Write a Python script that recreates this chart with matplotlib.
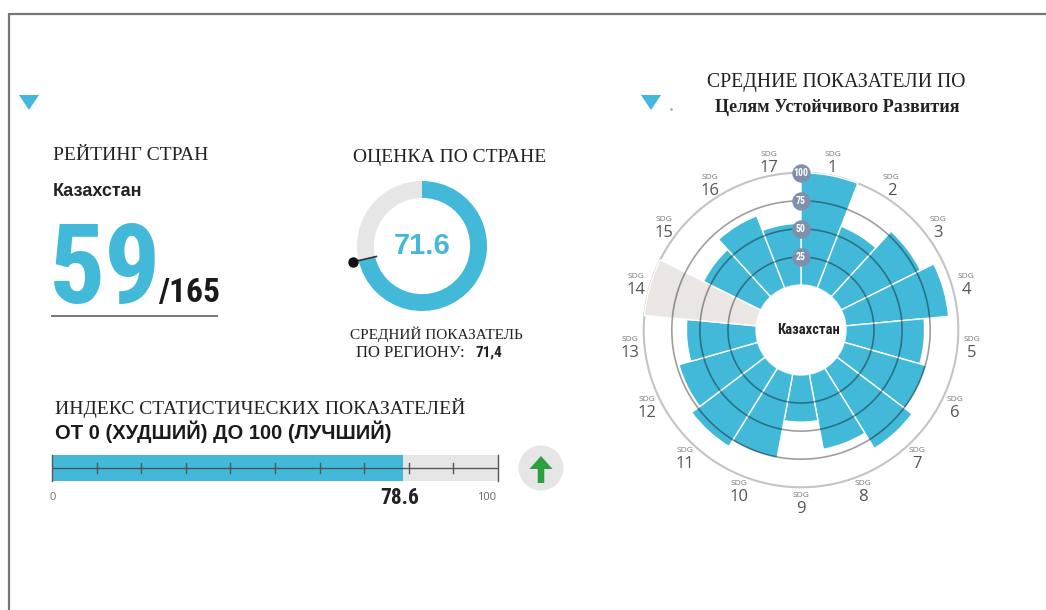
import matplotlib
matplotlib.use("Agg")
import matplotlib.pyplot as plt
import numpy as np
from matplotlib.patches import Circle, FancyArrow, Polygon

W, H = 1046, 610
BLUE = "#43b9d9"
GREY = "#e6e6e6"

goal_numbers = list(range(1, 18))
goal_scores = [100, 59, 79, 92, 70, 76, 84, 68, 42, 76, 82, 73, 62, 0, 57, 69, 55]
missing_goal = 14
ring_values = [25, 50, 75, 100]

rank = "59"
rank_total = "/165"
country = "Казахстан"
country_score = 71.6
region_score = 71.4
stat_index = 78.6
bar_ticks = [0, 10, 20, 30, 40, 50, 60, 70, 80, 90, 100]


def box(x0, y0, x1, y1, **kw):
    # pixel box (y down) to figure fractions
    return fig.add_axes([x0 / W, 1 - y1 / H, (x1 - x0) / W, (y1 - y0) / H], **kw)


fig = plt.figure(figsize=(W / 100, H / 100), dpi=100, facecolor="white")

serif = "Liberation Serif"
sans = "Liberation Sans"
narrow = ["Roboto Condensed", "Liberation Sans"]

# rose chart
hole = 40
px_per_unit = 157.3 / (100 + hole)
rmax = 118
rad = (rmax + hole) * px_per_unit
cx, cy = 801, 330
rose = box(cx - rad, cy - rad, cx + rad, cy + rad, projection="polar")
rose.set_theta_zero_location("N")
rose.set_theta_direction(-1)
rose.set_ylim(0, rmax)
rose.set_rorigin(-hole)
rose.axis("off")
rose.patch.set_alpha(0)
step = 2 * np.pi / len(goal_numbers)
angles = np.arange(len(goal_numbers)) * step + step / 2
for n, a, s in zip(goal_numbers, angles, goal_scores):
    if n == missing_goal:
        rose.bar(a, 100, width=step, color="#ebe6e4", edgecolor="white", linewidth=1.0, zorder=2)
    else:
        rose.bar(a, s, width=step, color=BLUE, edgecolor="white", linewidth=1.0, zorder=2)
    rose.annotate("SDG", (a, 113), xytext=(0, 4.8), textcoords="offset points", ha="center", va="center",
                  fontsize=6, color="#777777", family="Open Sans", annotation_clip=False)
    rose.annotate(str(n), (a, 113), xytext=(0, -4.8), textcoords="offset points", ha="center", va="center",
                  fontsize=12, color="#555555", family="Open Sans", annotation_clip=False)
t = np.linspace(0, 2 * np.pi, 400)
for v in ring_values[:-1]:
    rose.plot(t, np.full_like(t, v), color="black", alpha=0.38, lw=1.2, zorder=3)
rose.plot(t, np.full_like(t, ring_values[-1]), color="#c4c4c4", lw=1.5, zorder=1)
for v in ring_values:
    rose.scatter([0], [v], s=150, color="#7f90ad", zorder=4, clip_on=False)
    rose.text(0, v, str(v), ha="center", va="center", fontsize=7, color="white", zorder=5,
              family=narrow, fontweight="bold")

# donut
r_px = 65
lim = 1.2
dcx, dcy = 422, 246
donut = box(dcx - lim * r_px, dcy - lim * r_px, dcx + lim * r_px, dcy + lim * r_px)
donut.pie([country_score, 100 - country_score], colors=[BLUE, GREY], startangle=90, counterclock=False,
          radius=1, wedgeprops=dict(width=0.26))
donut.set_xlim(-lim, lim)
donut.set_ylim(-lim, lim)
a = np.deg2rad(region_score * 3.6)
donut.plot([0.72 * np.sin(a), 1.09 * np.sin(a)], [0.72 * np.cos(a), 1.09 * np.cos(a)], color="#333333", lw=1.2)
donut.plot([1.09 * np.sin(a)], [1.09 * np.cos(a)], "o", color="#111111", ms=6.5)

# index bar
bar = box(52, 455, 498, 481)
bar.set_xlim(0, 100)
bar.set_ylim(-1, 1)
bar.axis("off")
bar.barh(0, 100, height=2, color=GREY)
bar.barh(0, stat_index, height=2, color=BLUE)
bar.plot([0, 100], [0, 0], color="#444444", lw=1, alpha=0.85)
for x in bar_ticks:
    h = 1 if x in (0, 100) else 0.38
    bar.plot([x, x], [-h, h], color="#555555", lw=1, clip_on=False)

# everything else goes on a pixel overlay
ov = fig.add_axes([0, 0, 1, 1])
ov.set_xlim(0, W)
ov.set_ylim(H, 0)
ov.axis("off")
ov.patch.set_alpha(0)

ov.plot([9, 9, W], [H, 14, 14], color="#777777", lw=1.6)
for x in (29, 651):
    ov.add_patch(Polygon([[x - 10, 95], [x + 10, 95], [x, 110]], color=BLUE, lw=0))
ov.plot([671], [109], ".", color="#999999", ms=1.5)

ov.text(53, 155, "РЕЙТИНГ СТРАН", family=serif, fontsize=14, color="#222222", va="center")
ov.text(53, 191, country, family=sans, fontweight="bold", fontsize=13, color="#222222", va="center")
ov.text(49, 303, rank, family=narrow, fontweight="bold", fontsize=80, color=BLUE, va="baseline")
ov.text(158, 302, rank_total, family=narrow, fontweight="bold", fontsize=24, color="#1a1a1a", va="baseline")
ov.plot([52, 217], [316, 316], color="#777777", lw=1.4)

ov.text(450, 157, "ОЦЕНКА ПО СТРАНЕ", family=serif, fontsize=14, color="#222222", ha="center", va="center")
ov.text(422, 246, str(country_score), family=sans, fontweight="bold", fontsize=21, color=BLUE, ha="center", va="center")
ov.text(436, 334, "СРЕДНИЙ ПОКАЗАТЕЛЬ", family=serif, fontsize=11, color="#222222", ha="center", va="center")
ov.text(356, 353, "ПО РЕГИОНУ:", family=serif, fontsize=12, color="#222222", va="center")
ov.text(475, 353, str(region_score).replace(".", ","), family=narrow, fontweight="bold", fontsize=11,
        color="#222222", va="center")

ov.text(55, 408, "ИНДЕКС СТАТИСТИЧЕСКИХ ПОКАЗАТЕЛЕЙ", family=serif, fontsize=14, color="#222222", va="center")
ov.text(55, 432, "ОТ 0 (ХУДШИЙ) ДО 100 (ЛУЧШИЙ)", family=sans, fontweight="bold", fontsize=14.5, color="#1a1a1a", va="center")
ov.text(53, 498, "0", family="Open Sans", fontsize=8, color="#666666", ha="center", va="center")
ov.text(400, 498, str(stat_index), family=narrow, fontweight="bold", fontsize=15.5, color="#222222", ha="center", va="center")
ov.text(487, 498, "100", family="Open Sans", fontsize=8, color="#666666", ha="center", va="center")
ov.add_patch(Circle((541, 468), 22.5, color=GREY, lw=0))
ov.add_patch(FancyArrow(541, 483, 0, -27, width=6.5, head_width=23, head_length=13,
                        length_includes_head=True, color="#2e9e3f", lw=0))

ov.text(836, 83, "СРЕДНИЕ ПОКАЗАТЕЛИ ПО", family=serif, fontsize=14.2, color="#222222", ha="center", va="center")
ov.text(837, 108, "Целям Устойчивого Развития", family=serif, fontweight="bold", fontsize=13.1, color="#222222", ha="center", va="center")
ov.text(808, 330, country, family=narrow, fontweight="bold", fontsize=10.5, color="#222222", ha="center", va="center")

fig.savefig("out.png", dpi=100)
